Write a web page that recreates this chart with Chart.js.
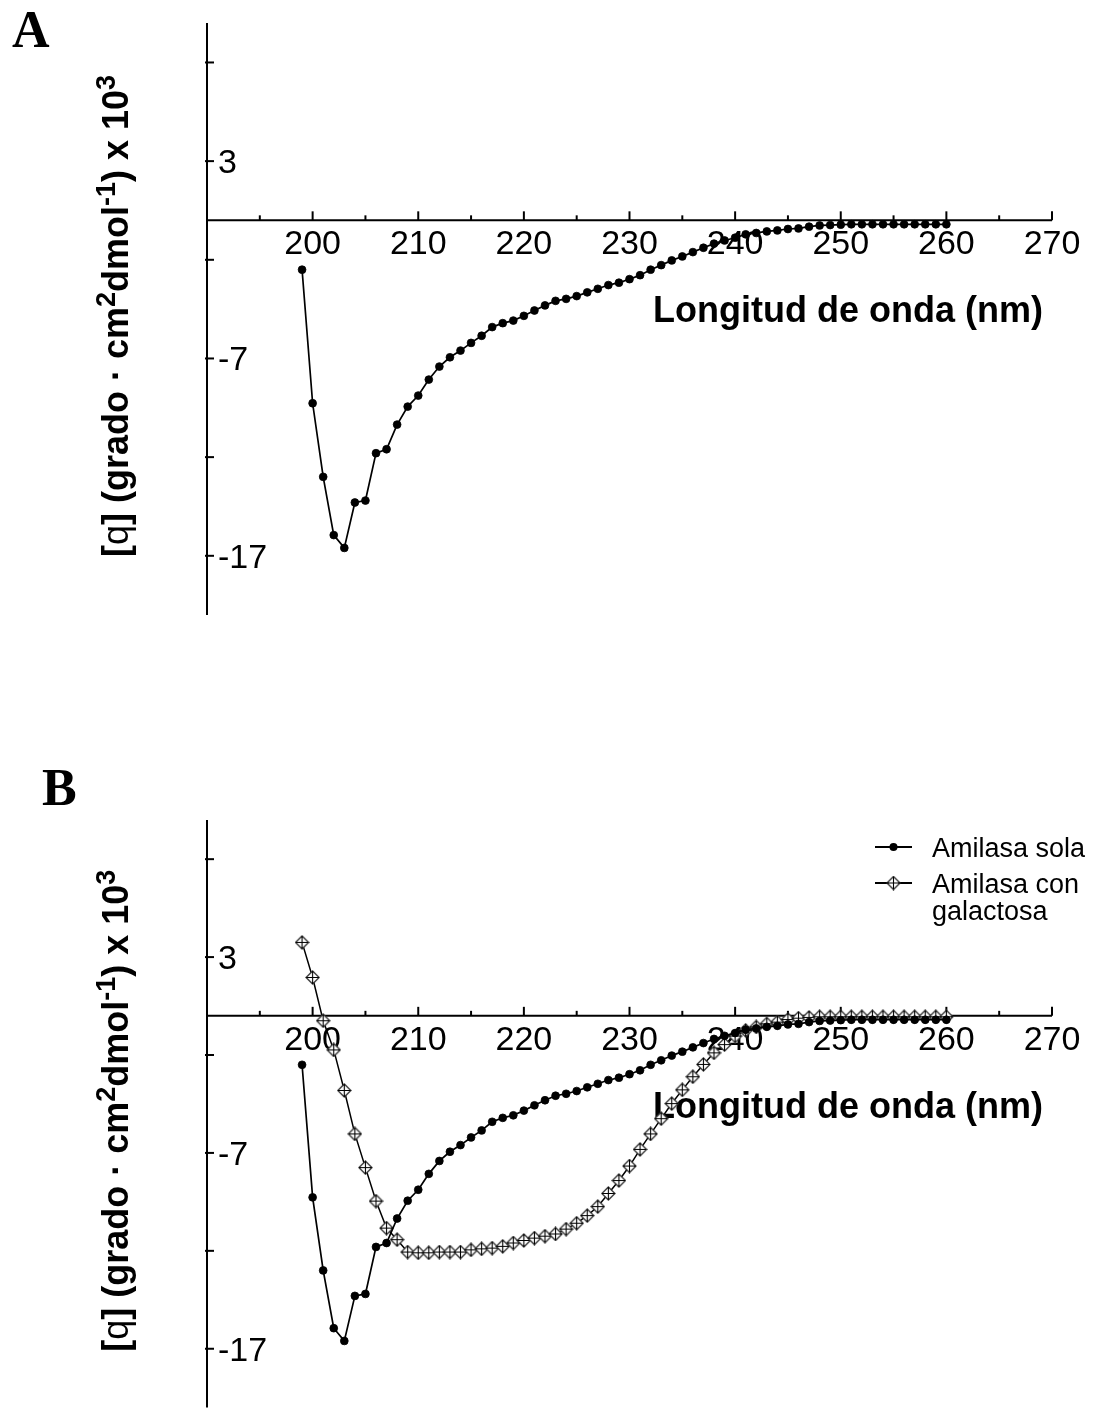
<!DOCTYPE html>
<html><head><meta charset="utf-8">
<script src="https://cdn.jsdelivr.net/npm/chart.js@4.4.0/dist/chart.umd.min.js"></script>
<style>
html,body{margin:0;padding:0;background:#fff;width:1094px;height:1416px;overflow:hidden}
.wrap{position:absolute;left:0;width:1094px}
#wa{top:0;height:700px}
#wb{top:700px;height:716px}
</style></head>
<body>
<div class="wrap" id="wa"><canvas id="ca"></canvas></div>
<div class="wrap" id="wb"><canvas id="cb"></canvas></div>
<script>
// ---------------- DATA ----------------
const wavelengths = [199,200,201,202,203,204,205,206,207,208,209,210,211,212,213,214,215,216,217,218,219,220,
  221,222,223,224,225,226,227,228,229,230,231,232,233,234,235,236,237,238,239,240,
  241,242,243,244,245,246,247,248,249,250,251,252,253,254,255,256,257,258,259,260];
const amilasaSola = [-2.5,-9.27,-13.0,-15.95,-16.6,-14.3,-14.2,-11.8,-11.6,-10.35,-9.44,-8.88,-8.07,-7.41,-6.94,-6.6,-6.21,-5.85,-5.41,-5.21,-5.08,-4.84,
  -4.57,-4.31,-4.08,-3.98,-3.84,-3.65,-3.47,-3.28,-3.16,-2.98,-2.78,-2.5,-2.27,-2.03,-1.83,-1.61,-1.39,-1.18,-1.02,-0.88,
  -0.71,-0.64,-0.56,-0.51,-0.44,-0.41,-0.32,-0.26,-0.24,-0.22,-0.2,-0.2,-0.2,-0.2,-0.2,-0.2,-0.2,-0.2,-0.2,-0.2];
const amilasaGalactosa = [3.75,1.96,-0.25,-1.74,-3.81,-6.03,-7.75,-9.46,-10.84,-11.43,-12.06,-12.1,-12.1,-12.06,-12.06,-12.06,-11.95,-11.9,-11.86,-11.77,-11.6,-11.47,
  -11.35,-11.25,-11.14,-10.89,-10.59,-10.2,-9.74,-9.07,-8.41,-7.67,-6.82,-6.03,-5.25,-4.48,-3.78,-3.11,-2.48,-1.89,-1.47,-1.03,
  -0.74,-0.57,-0.41,-0.32,-0.19,-0.12,-0.08,-0.05,-0.05,-0.05,-0.05,-0.05,-0.05,-0.05,-0.05,-0.05,-0.05,-0.05,-0.05,-0.05];
const seriesNames = ['Amilasa sola', 'Amilasa con galactosa'];
const legendLines = [['Amilasa sola'], ['Amilasa con', 'galactosa']];
const xMin = 190, xMax = 270;
const yMin = -20, yMax = 10;
const xMinorTicks = [195,200,205,210,215,220,225,230,235,240,245,250,255,260,265,270];
const xTickLabels = [200,210,220,230,240,250,260,270];
const yTicks = [-17,-12,-7,-2,3,8];
const yTickLabels = [-17,-7,3];
const xTitle = 'Longitud de onda (nm)';
const panelLabels = ['A', 'B'];

// ---------------- STYLE ----------------
const SANS = "'Liberation Sans', Arial, sans-serif";
const SERIF = "'Liberation Serif', 'Times New Roman', serif";

function makeDiamond() {
  const c = document.createElement('canvas');
  c.width = 15; c.height = 15;
  const g = c.getContext('2d');
  const m = 7.5, r = 6.5;
  g.beginPath();
  g.moveTo(m, m - r); g.lineTo(m + r, m); g.lineTo(m, m + r); g.lineTo(m - r, m); g.closePath();
  g.fillStyle = '#fff'; g.fill();
  g.strokeStyle = '#333'; g.lineWidth = 1.3; g.stroke();
  g.beginPath();
  g.moveTo(m, m - r); g.lineTo(m, m + r);
  g.moveTo(m - r, m); g.lineTo(m + r, m);
  g.strokeStyle = '#000'; g.lineWidth = 1.1; g.stroke();
  return c;
}
const diamond = makeDiamond();

function pts(vals) { return wavelengths.map((w, i) => ({x: w, y: vals[i]})); }

function drawYTitle(ctx, cx, cy) {
  const B = 'bold 36px ' + SANS, N = '36px ' + SANS, S = 'bold 27px ' + SANS;
  const parts = [
    {t: '[', f: B}, {t: 'q', f: N}, {t: ']', f: B},
    {t: ' (grado \u00B7 cm', f: B}, {t: '2', f: S, sup: true},
    {t: 'dmol', f: B}, {t: '-1', f: S, sup: true},
    {t: ') x 10', f: B}, {t: '3', f: S, sup: true}
  ];
  ctx.save();
  ctx.translate(cx, cy);
  ctx.rotate(-Math.PI / 2);
  let total = 0;
  parts.forEach(p => { ctx.font = p.f; p.w = ctx.measureText(p.t).width; total += p.w; });
  let x = -total / 2;
  ctx.fillStyle = '#000';
  ctx.textBaseline = 'alphabetic';
  ctx.textAlign = 'left';
  parts.forEach(p => { ctx.font = p.f; ctx.fillText(p.t, x, p.sup ? -13 : 0); x += p.w; });
  ctx.restore();
}

function line(ctx, a, b, c, d) { ctx.beginPath(); ctx.moveTo(a, b); ctx.lineTo(c, d); ctx.stroke(); }

const axesPlugin = {
  id: 'customAxes',
  beforeDatasetsDraw(chart, args, opts) {
    const ctx = chart.ctx, xs = chart.scales.x, ys = chart.scales.y;
    const xL = xs.getPixelForValue(xMin), xR = xs.getPixelForValue(xMax);
    const yT = ys.getPixelForValue(yMax), yB = ys.getPixelForValue(yMin);
    const y0 = ys.getPixelForValue(0);
    ctx.save();
    ctx.strokeStyle = '#000'; ctx.fillStyle = '#000'; ctx.lineWidth = 2;
    line(ctx, xL, yT, xL, yB);
    line(ctx, xL, y0, xR, y0);
    xMinorTicks.forEach(v => {
      const px = xs.getPixelForValue(v);
      const len = (v % 10 === 0) ? 9 : 5;
      line(ctx, px, y0, px, y0 - len);
    });
    yTicks.forEach(v => {
      const py = ys.getPixelForValue(v);
      line(ctx, xL - 2, py, xL + 7, py);
    });
    ctx.font = '34px ' + SANS;
    ctx.textAlign = 'center'; ctx.textBaseline = 'alphabetic';
    xTickLabels.forEach(v => {
      ctx.fillText(String(v), xs.getPixelForValue(v), y0 + 34);
    });
    ctx.textAlign = 'left';
    yTickLabels.forEach(v => {
      ctx.fillText(String(v), xL + 11, ys.getPixelForValue(v) + 12);
    });
    // x title
    ctx.font = 'bold 36px ' + SANS;
    ctx.textAlign = 'right';
    ctx.fillText(xTitle, 1043, y0 + 102);
    // y title
    drawYTitle(ctx, 127.5, (yT + yB) / 2 - 3);
    // panel label
    ctx.font = 'bold 52px ' + SERIF;
    ctx.textAlign = 'left';
    ctx.fillText(opts.panel, opts.panelX, opts.panelY);
    // legend
    if (opts.legend) {
      const lx0 = 875, lx1 = 912, tx = 932;
      const rows = [yT + 27, yT + 63];
      ctx.font = '27px ' + SANS;
      rows.forEach((ry, i) => {
        ctx.strokeStyle = '#000'; ctx.lineWidth = 1.8;
        line(ctx, lx0, ry, lx1, ry);
        if (i === 0) {
          ctx.beginPath(); ctx.arc((lx0 + lx1) / 2, ry, 4, 0, Math.PI * 2); ctx.fill();
        } else {
          ctx.drawImage(diamond, (lx0 + lx1) / 2 - 7.5, ry - 7.5);
        }
        legendLines[i].forEach((t, k) => {
          ctx.fillText(t, tx, ry + 10 + k * 27);
        });
      });
    }
    ctx.restore();
  }
};

function makeChart(id, datasets, padding, opts) {
  return new Chart(document.getElementById(id), {
    type: 'line',
    data: {datasets},
    options: {
      responsive: true, maintainAspectRatio: false, animation: false,
      layout: {padding},
      scales: {
        x: {type: 'linear', min: xMin, max: xMax, display: false},
        y: {type: 'linear', min: yMin, max: yMax, display: false}
      },
      plugins: {legend: {display: false}, tooltip: {enabled: false}, customAxes: opts}
    },
    plugins: [axesPlugin]
  });
}

const solaDs = () => ({
  label: seriesNames[0], data: pts(amilasaSola), parsing: false,
  borderColor: '#000', borderWidth: 1.7, tension: 0,
  pointRadius: 3.9, pointBackgroundColor: '#000', pointBorderColor: '#000', pointBorderWidth: 0.8,
  clip: false, order: 0
});
const galDs = () => ({
  label: seriesNames[1], data: pts(amilasaGalactosa), parsing: false,
  borderColor: '#000', borderWidth: 1.5, tension: 0,
  pointStyle: diamond, pointRadius: 7,
  clip: false, order: 1
});

makeChart('ca', [solaDs()], {left: 207, right: 42, top: 23, bottom: 85},
  {panel: panelLabels[0], panelX: 12, panelY: 47, legend: false});
makeChart('cb', [solaDs(), galDs()], {left: 207, right: 42, top: 120, bottom: 4},
  {panel: panelLabels[1], panelX: 42, panelY: 105, legend: true});
</script>
</body></html>
